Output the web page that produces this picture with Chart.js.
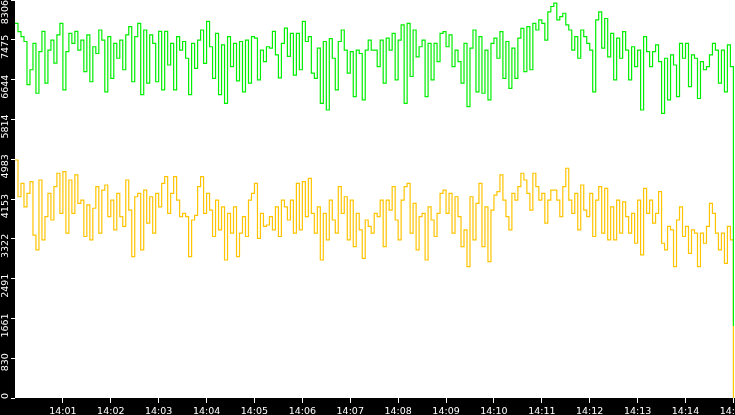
<!DOCTYPE html>
<html>
<head>
<meta charset="utf-8">
<script src="https://cdn.jsdelivr.net/npm/chart.js@4/dist/chart.umd.min.js"></script>
<style>
    html, body { margin: 0; padding: 0; background: #000; overflow: hidden; }
    #wrap { width: 735px; height: 415px; position: relative; }
</style>
</head>
<body>
<div id="wrap"><canvas id="trafficChart"></canvas></div>
<script>
// samples from 14:00 to 14:15, evenly spaced
const upperValues = [
    7820, 7645, 7540, 7440, 6540, 6850, 7400, 6360, 7230, 7650, 6570, 7260, 7470, 6990, 7580, 7820, 6430, 7230, 7610, 7400,
    7650, 7260, 7470, 6810, 7580, 6600, 7330, 7190, 7680, 7470, 6390, 7540, 6670, 7400, 7090, 7470, 6850, 7580, 7750, 6600,
    7540, 7820, 6330, 7680, 6570, 7580, 7400, 6600, 7650, 6430, 7650, 6950, 7400, 6430, 7540, 7260, 7440, 7090, 6330, 7400,
    6880, 7470, 7680, 6985, 7860, 7330, 6670, 7610, 6330, 7370, 6150, 7540, 6915, 7400, 6620, 7440, 6390, 7470, 6570, 7540,
    7510, 6640, 7260, 7020, 7330, 7300, 7650, 7160, 6680, 7400, 7720, 7130, 7610, 6740, 7610, 6850, 7860, 7440, 7540, 6780,
    6670, 7300, 6150, 7440, 6010, 7500, 7090, 6430, 7440, 7680, 7260, 6780, 7230, 6290, 7260, 7190, 6220, 7260, 7470, 7260,
    7260, 6915, 7470, 6570, 7510, 7260, 7610, 6640, 7470, 7785, 6150, 7820, 6710, 7680, 7120, 7330, 7470, 6290, 7400, 6640,
    7400, 7020, 7610, 7645, 7330, 7580, 6915, 7260, 7020, 6570, 7400, 6080, 7300, 7680, 6390, 7540, 6360, 7260, 6220, 7400,
    7510, 7090, 7645, 6670, 7440, 6460, 7300, 6670, 7510, 7715, 6810, 7750, 6850, 7820, 7680, 7890, 7820, 7470, 8060, 8170,
    8240, 7890, 7960, 8030, 7785, 7680, 7260, 7540, 7090, 7680, 7540, 7400, 7260, 6390, 7890, 8060, 7300, 7920, 7120, 7610,
    6640, 7510, 7090, 7645, 7260, 6640, 7330, 6915, 7260, 6010, 7540, 7230, 6915, 7230, 7370, 7020, 5940, 7090, 6220, 7160,
    6950, 6290, 7400, 7090, 7400, 6500, 7160, 7090, 6250, 7020, 6850, 6915, 7160, 7400, 7260, 6570, 7260, 6390, 7370, 6915,
    1500
];
const lowerValues = [
    4967, 4200, 4480, 3990, 4270, 4515, 3400, 3090, 4550, 3300, 3785, 4270, 3715, 4410, 4690, 3855, 4725, 3440, 4550, 3855,
    4655, 4060, 4130, 3370, 4030, 3300, 3960, 4410, 3440, 4340, 4445, 3785, 4130, 3510, 4270, 3785, 3580, 4550, 3920, 2950,
    4200, 4270, 3090, 4340, 3650, 4200, 3440, 4270, 3990, 4480, 4620, 3855, 4270, 4620, 4130, 3785, 3855, 3785, 2950, 3715,
    3810, 4410, 4620, 3855, 4270, 3920, 3370, 4130, 3510, 3990, 2880, 3855, 3440, 3990, 2950, 3440, 3785, 3370, 4130, 4270,
    4480, 3330, 3855, 3580, 3610, 3785, 3510, 3990, 3370, 4130, 3990, 3715, 4130, 3440, 4480, 3510, 4515, 3785, 4585, 3855,
    3440, 3990, 2880, 3855, 3300, 4130, 3715, 3440, 4410, 3855, 4200, 3300, 4130, 3160, 3855, 3510, 2915, 3715, 3580, 3440,
    3855, 3785, 4130, 3160, 4130, 3920, 4410, 3715, 3300, 4130, 4410, 4480, 3440, 4060, 3090, 3785, 3855, 2880, 3990, 3715,
    3370, 3855, 4270, 4340, 3855, 4270, 3440, 4200, 3785, 3160, 3510, 2740, 4200, 3300, 4060, 4480, 3160, 3990, 2845, 3920,
    4235, 4305, 4655, 4130, 3785, 3510, 4270, 4130, 4410, 4690, 4550, 4270, 3920, 4690, 4410, 4130, 4270, 3650, 4130, 4340,
    4340, 4130, 3785, 4410, 4795, 4130, 3855, 4270, 3510, 4445, 3920, 3785, 4270, 3370, 4130, 4410, 3440, 4375, 3300, 3990,
    3300, 4130, 3440, 4095, 3785, 3440, 3855, 3230, 4130, 2985, 4375, 3855, 4130, 3650, 3855, 4305, 3230, 3090, 3580, 3510,
    2740, 3715, 3990, 3370, 3580, 3020, 3510, 3440, 2740, 3440, 3230, 3580, 4060, 3855, 3440, 3090, 3440, 2810, 3580, 3300,
    0
];
const spanSeconds = 900;
const xTickSeconds = [60, 120, 180, 240, 300, 360, 420, 480, 540, 600, 660, 720, 780, 840, 900];
const xTickLabels = ['14:01', '14:02', '14:03', '14:04', '14:05', '14:06', '14:07', '14:08', '14:09', '14:10', '14:11', '14:12', '14:13', '14:14', '14:15'];
const yTickValues = [0, 830.6, 1661.2, 2491.8, 3322.4, 4153, 4983.6, 5814.2, 6644.8, 7475.4, 8306];

const toPoints = (values) => values.map((v, i) => ({ x: i * spanSeconds / (values.length - 1), y: v }));

const backdrop = {
    id: 'backdrop',
    beforeDraw: (chart) => {
        const { ctx, chartArea } = chart;
        ctx.save();
        ctx.fillStyle = '#000';
        ctx.fillRect(0, 0, chart.width, chart.height);
        ctx.fillStyle = '#fff';
        ctx.fillRect(chartArea.left, chartArea.top, chartArea.right - chartArea.left, chartArea.bottom - chartArea.top);
        ctx.restore();
        // keep the top y label inside the canvas
        chart.scales.y.getLabelItems().forEach(item => {
            item.options.translation[1] = Math.max(item.options.translation[1], 0);
        });
    }
};

const axisFont = { family: 'DejaVu Sans', size: 9.5 };

const lineStyle = (color) => ({ borderColor: color, borderWidth: 1.2, pointRadius: 0, stepped: true, fill: false });

const initChart = () => {
    const ctx = document.getElementById('trafficChart');
    new Chart(ctx, {
        type: 'line',
        data: {
            datasets: [
                { data: toPoints(upperValues), ...lineStyle('#00ee00') },
                { data: toPoints(lowerValues), ...lineStyle('#ffc400') }
            ]
        },
        options: {
            responsive: true,
            maintainAspectRatio: false,
            animation: false,
            layout: { padding: 0 },
            plugins: { legend: { display: false }, tooltip: { enabled: false } },
            scales: {
                x: {
                    type: 'linear',
                    min: 0,
                    max: 902,
                    afterBuildTicks: (scale) => { scale.ticks = xTickSeconds.map(value => ({ value })); },
                    afterFit: (scale) => { scale.height = 17; scale.paddingLeft = 0; scale.paddingRight = 0; },
                    border: { display: false },
                    grid: { drawOnChartArea: false, tickLength: 5, tickColor: '#fff', tickWidth: 1 },
                    ticks: {
                        color: '#fff', font: axisFont, padding: 3, maxRotation: 0, autoSkip: false,
                        callback: (value, index) => xTickLabels[index]
                    }
                },
                y: {
                    min: 0,
                    max: 8306,
                    afterBuildTicks: (scale) => { scale.ticks = yTickValues.map(value => ({ value })); },
                    afterFit: (scale) => { scale.width = 15; scale.paddingTop = 0; scale.paddingBottom = 0; },
                    border: { display: false },
                    grid: { drawOnChartArea: false, tickLength: 4, tickColor: '#fff', tickWidth: 1 },
                    ticks: {
                        color: '#fff', font: axisFont, padding: 5, minRotation: 90, maxRotation: 90,
                        labelOffset: -5, autoSkip: false,
                        callback: (value) => String(Math.floor(value))
                    }
                }
            }
        },
        plugins: [backdrop]
    });
};

window.addEventListener('DOMContentLoaded', initChart);
</script>
</body>
</html>
